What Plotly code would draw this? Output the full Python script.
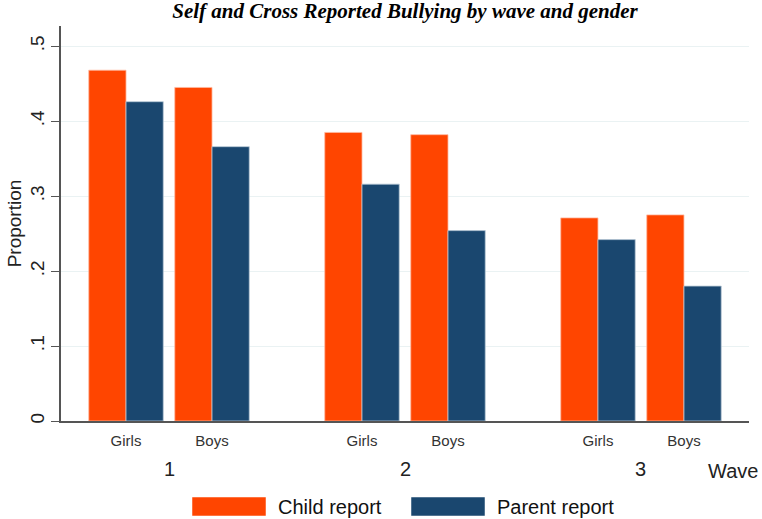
import plotly.graph_objects as go

waves = ["1", "2", "3"]
genders = ["Girls", "Boys"]
child_report = [0.468, 0.445, 0.385, 0.382, 0.271, 0.275]
parent_report = [0.426, 0.366, 0.316, 0.254, 0.242, 0.180]
y_ticks = [0, 0.1, 0.2, 0.3, 0.4, 0.5]
y_tick_labels = ["0", ".1", ".2", ".3", ".4", ".5"]
series_names = ["Child report", "Parent report"]

ORANGE = "#FF4500"
NAVY = "#1A476F"
WAVE_STEP = 2.744

# derived positions: gender index within wave, wave index scaled by step
xpos = []
xlab = []
for wi, w in enumerate(waves):
    for gi, g in enumerate(genders):
        xpos.append(wi * WAVE_STEP + gi)
        xlab.append(g)
wave_centers = [wi * WAVE_STEP + 0.5 for wi in range(len(waves))]

fig = go.Figure()
fig.add_trace(go.Bar(x=xpos, y=child_report, name=series_names[0],
                     marker=dict(color=ORANGE, line=dict(color="#FFB9A0", width=0.8)),
                     showlegend=False))
fig.add_trace(go.Bar(x=xpos, y=parent_report, name=series_names[1],
                     marker=dict(color=NAVY, line=dict(color="#B8C8D6", width=0.8)),
                     showlegend=False))

PL, PR, PT, PB = 61, 13, 26, 98
W, H = 762, 519
pw, ph = W - PL - PR, H - PT - PB

def px(xp):
    return (xp - PL) / pw

def py(yp):
    return (H - PB - yp) / ph

pad = 0.756
fig.update_layout(
    width=W, height=H,
    margin=dict(l=PL, r=PR, t=PT, b=PB),
    paper_bgcolor="white", plot_bgcolor="white",
    barmode="group", bargap=0.134, bargroupgap=0,
    font=dict(family="Liberation Sans, Arial, sans-serif", color="#111"),
    title=dict(text="<b><i>Self and Cross Reported Bullying by wave and gender</i></b>",
               font=dict(family="Liberation Serif, Times New Roman, serif", size=21, color="#000"),
               x=0.5, xref="paper", xanchor="center", y=0.979, yref="container", yanchor="middle"),
    xaxis=dict(range=[xpos[0] - pad, xpos[-1] + pad], tickvals=xpos, ticktext=xlab,
               showgrid=False, zeroline=False, showline=True, linecolor="#555", linewidth=1.5,
               ticks="", tickfont=dict(size=15, color="#333"), ticklabelstandoff=5,
               automargin=False),
    yaxis=dict(range=[0, 0.527], tickvals=y_ticks, ticktext=y_tick_labels, tickangle=-90,
               showgrid=True, gridcolor="#EAF2F3", gridwidth=1.2, zeroline=False,
               showline=True, linecolor="#555", linewidth=1.5,
               ticks="outside", ticklen=8, tickcolor="#555",
               tickfont=dict(size=19, color="#222"),
               title=dict(text="Proportion", font=dict(size=19, color="#222"), standoff=0),
               automargin=False),
)

for wc, w in zip(wave_centers, waves):
    fig.add_annotation(x=wc, y=py(469), xref="x", yref="paper", text=w, showarrow=False,
                       font=dict(size=20, color="#222"), yanchor="middle")
fig.add_annotation(x=px(760), y=py(471), xref="paper", yref="paper", text="Wave", showarrow=False,
                   font=dict(size=20, color="#222"), xanchor="right", yanchor="middle")

# legend keys
legend_items = [(series_names[0], ORANGE, 192, 278), (series_names[1], NAVY, 411, 497)]
for name, col, x0, tx in legend_items:
    fig.add_shape(type="rect", xref="paper", yref="paper",
                  x0=px(x0), x1=px(x0 + 74), y0=py(516), y1=py(497),
                  fillcolor=col, line=dict(color="white", width=0.5))
    fig.add_annotation(x=px(tx), y=py(507), xref="paper", yref="paper",
                       text=name, showarrow=False, xanchor="left", yanchor="middle",
                       xshift=-2, font=dict(size=20, color="#111"))

fig.write_html("out.html", config={"displayModeBar": False},
               post_script="document.body.style.margin='0';document.body.style.overflow='hidden';")
